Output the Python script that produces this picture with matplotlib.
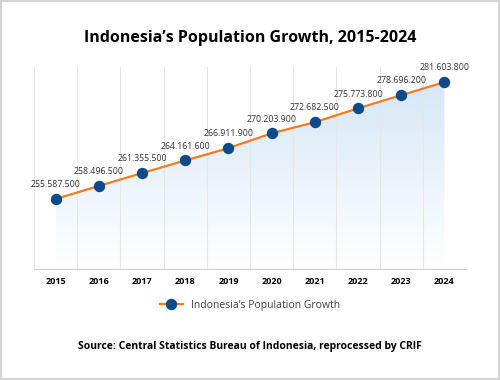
"Indonesia population growth chart"
import numpy as np
import matplotlib.pyplot as plt
from matplotlib.patches import Rectangle

"data"
years = ["2015", "2016", "2017", "2018", "2019", "2020", "2021", "2022", "2023", "2024"]
population = [255587500, 258496500, 261355500, 264161600, 266911900,
              270203900, 272682500, 275773800, 278696200, 281603800]

plt.rcParams['font.family'] = ['Open Sans', 'DejaVu Sans']

fig = plt.figure(figsize=(5, 3.8), dpi=100)
ax = fig.add_axes([0.068, 0.292, 0.864, 0.532])

x = np.arange(len(years))
ymin, ymax = 240e6, 285e6

"gradient fill under the line"
fill = ax.fill_between(x, population, ymin, color="none", lw=0)
grad = np.linspace(0, 1, 256).reshape(-1, 1)
cmap = plt.matplotlib.colors.LinearSegmentedColormap.from_list("g", ["#ffffff", "#d6e7f6"])
img = ax.imshow(grad, cmap=cmap, aspect="auto", origin="lower",
                extent=[x[0], x[-1], ymin, max(population)], zorder=1)
img.set_clip_path(fill.get_paths()[0], transform=ax.transData)

ax.plot(x, population, color="#f47c20", lw=1.6, marker="o", markersize=7.2,
        markerfacecolor="#0d4a8a", markeredgecolor="#0d4a8a", zorder=3,
        label="Indonesia\u2019s Population Growth")

for xi, v in zip(x, population):
    ax.annotate(f"{v:,}".replace(",", "."), (xi, v), xytext=(0, 7),
                textcoords="offset points", ha="center", va="bottom",
                fontsize=6.3, color="#333333")

ax.set_xlim(-0.5, len(years) - 0.5)
ax.set_ylim(ymin, ymax)
ax.set_xticks(x)
ax.set_xticklabels(years, fontsize=6.5, fontweight="bold")
ax.set_xticks(np.arange(-0.5, len(years)), minor=True)
ax.tick_params(axis="x", which="both", length=0, pad=6)
ax.set_yticks([])
ax.grid(which="minor", axis="x", color="#e6e6e6", lw=0.8)
for s in ["top", "left", "right"]:
    ax.spines[s].set_visible(False)
ax.spines["bottom"].set_color("#d0d0d0")

fig.text(0.5, 0.9, "Indonesia\u2019s Population Growth, 2015-2024",
         ha="center", va="center", fontsize=11.5, fontweight="bold")
fig.legend(loc="center", bbox_to_anchor=(0.5, 0.197), frameon=False,
           fontsize=7.5, labelcolor="#404040", handlelength=2.2)
fig.text(0.5, 0.089, "Source: Central Statistics Bureau of Indonesia, reprocessed by CRIF",
         ha="center", va="center", fontsize=7.5, fontweight="bold")

fig.add_artist(Rectangle((0.002, 0.003), 0.996, 0.994, transform=fig.transFigure,
                         fill=False, edgecolor="#d4d4d4", lw=1.5))

fig.savefig("out.png", dpi=100)
